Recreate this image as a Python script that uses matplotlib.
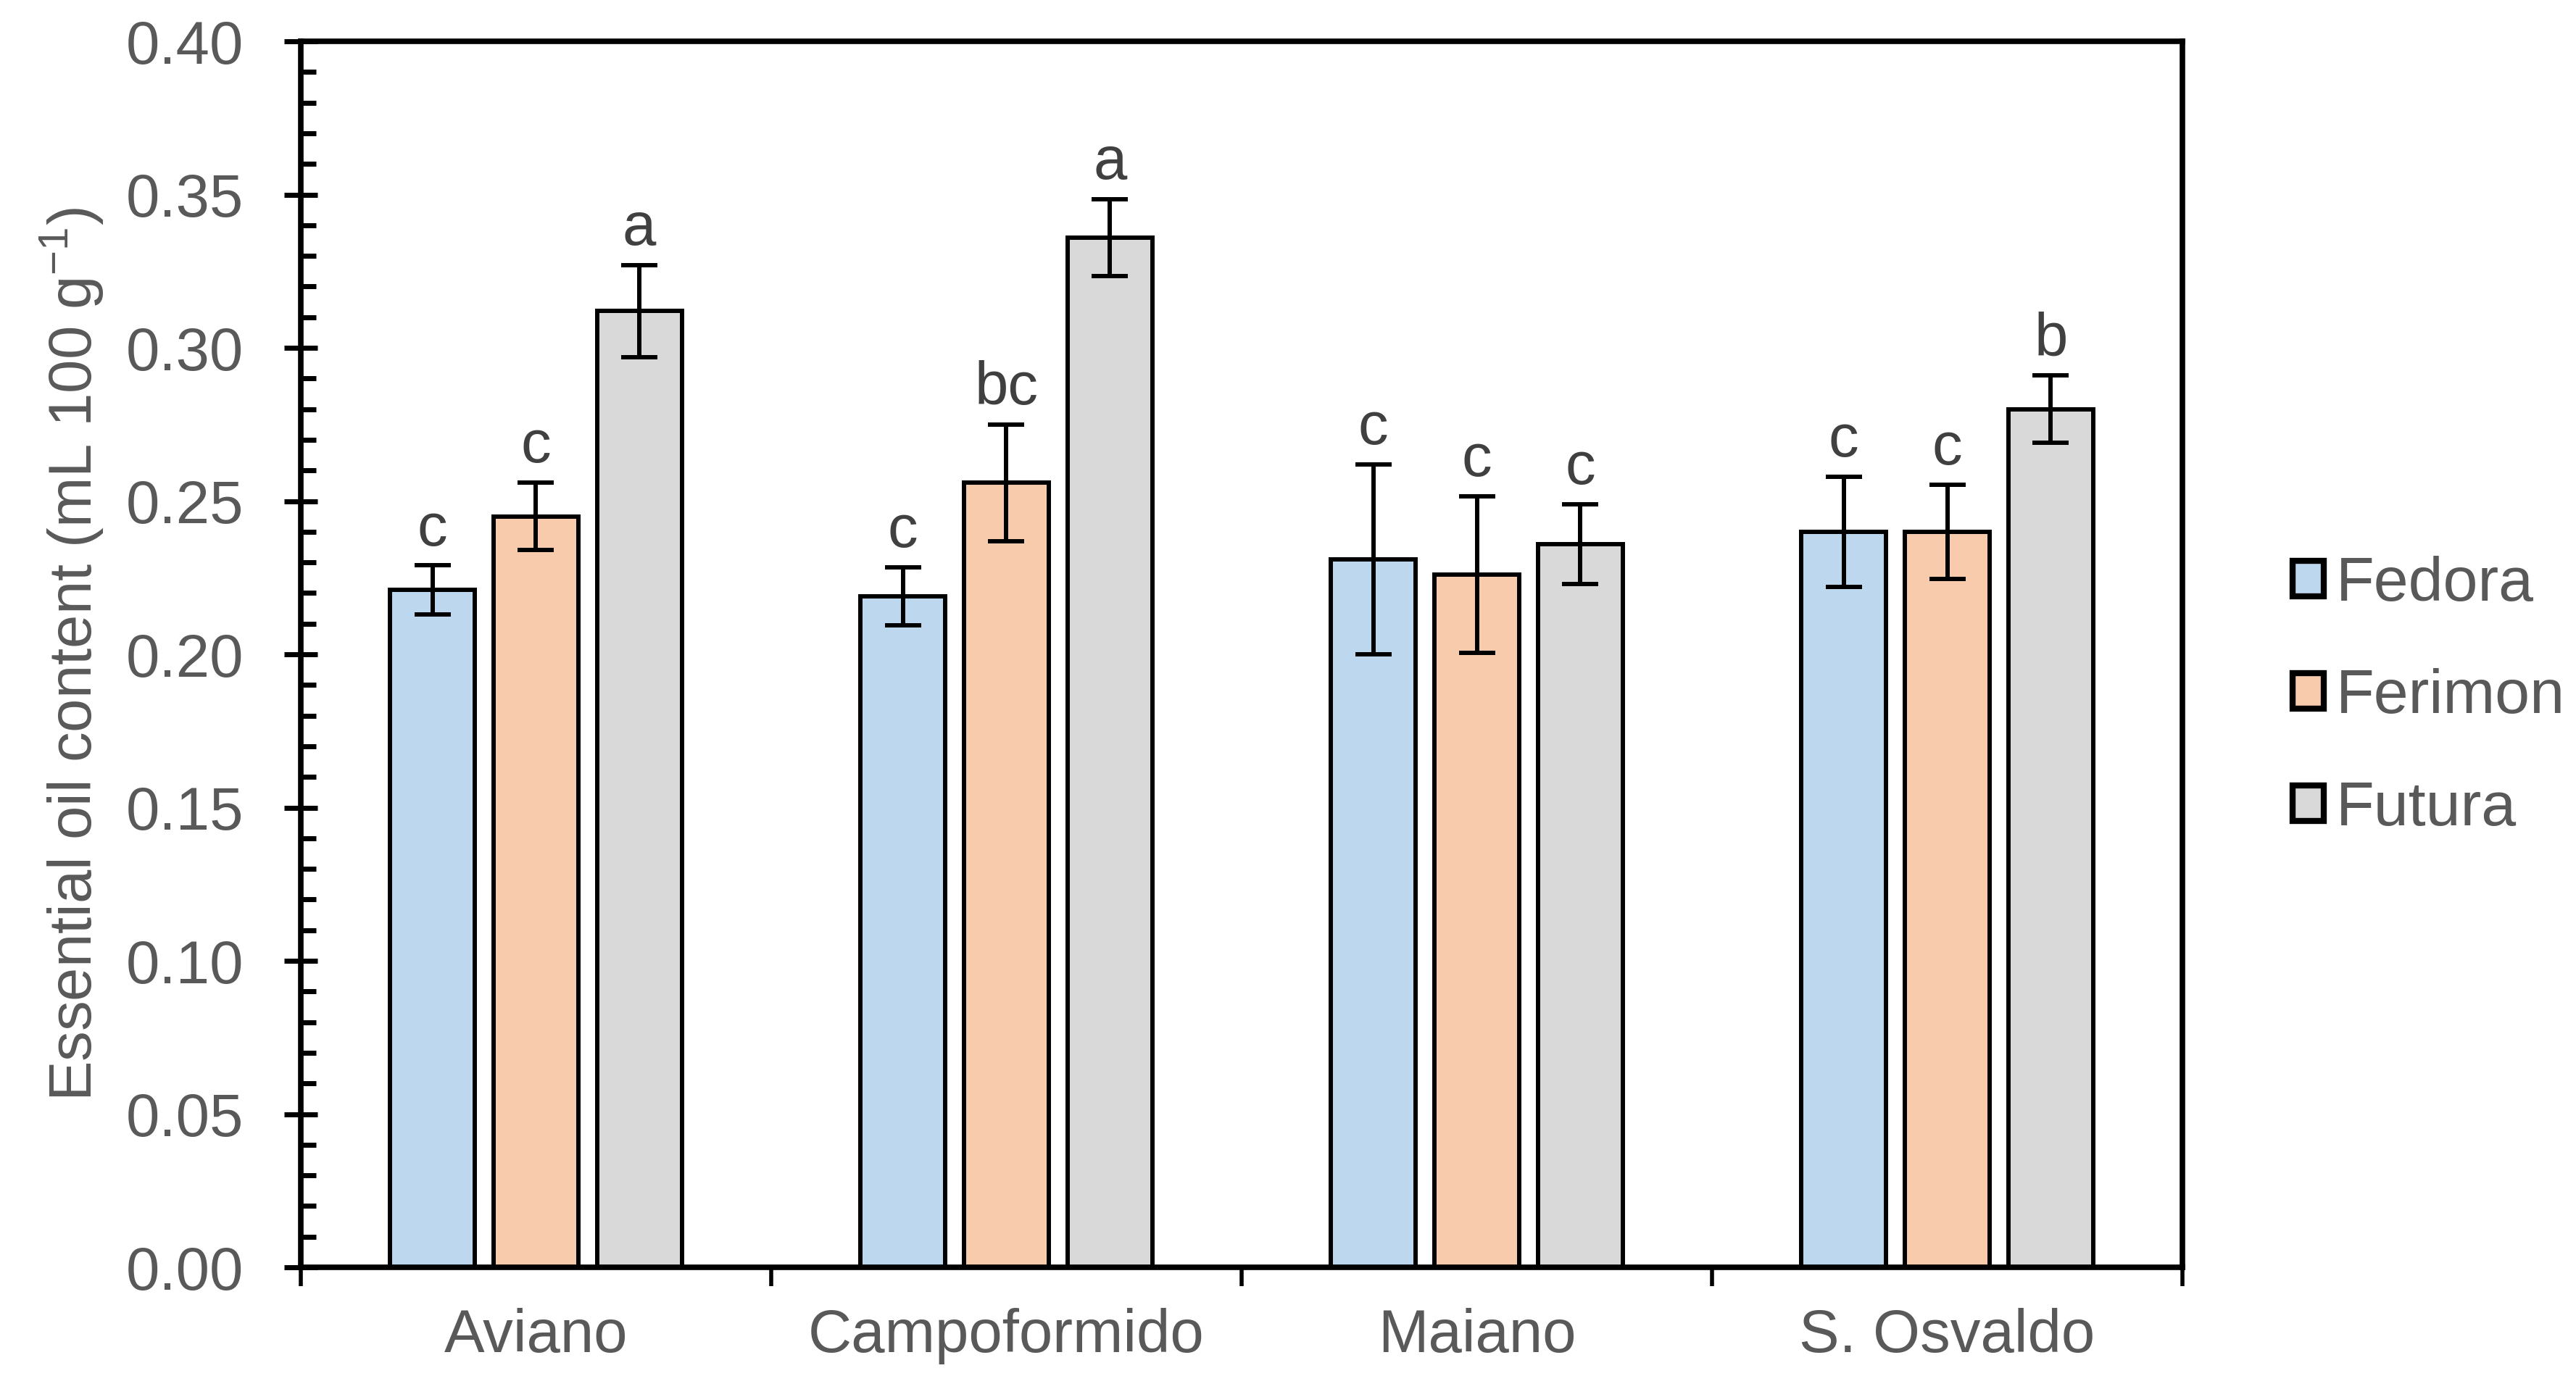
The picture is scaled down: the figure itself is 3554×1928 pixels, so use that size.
import numpy as np
import matplotlib
matplotlib.use('Agg')
import matplotlib.pyplot as plt
from matplotlib.ticker import MultipleLocator, FixedLocator, NullFormatter

plt.rcParams['font.family'] = ['Liberation Sans', 'DejaVu Sans']
plt.rcParams['mathtext.fontset'] = 'custom'
plt.rcParams['mathtext.rm'] = 'Liberation Sans'

# Data
sites = ['Aviano', 'Campoformido', 'Maiano', 'S. Osvaldo']
cultivars = ['Fedora', 'Ferimon', 'Futura']
fedora = [0.221, 0.219, 0.231, 0.240]
ferimon = [0.245, 0.256, 0.226, 0.240]
futura = [0.312, 0.336, 0.236, 0.280]
fedora_err = [0.008, 0.0095, 0.031, 0.018]
ferimon_err = [0.011, 0.019, 0.0255, 0.0153]
futura_err = [0.015, 0.0125, 0.013, 0.011]
fedora_let = ['c', 'c', 'c', 'c']
ferimon_let = ['c', 'bc', 'c', 'c']
futura_let = ['a', 'a', 'c', 'b']

colors = ['#BDD7EE', '#F8CBAD', '#D9D9D9']
text_gray = '#595959'

fig = plt.figure(figsize=(35.55, 19.28), dpi=100)
ax = fig.add_axes([0.1167, 0.0928, 0.7303, 0.8776])

x = np.arange(len(sites))
offsets = [-0.22, 0.0, 0.22]
width = 0.18
series = [(fedora, fedora_err, fedora_let), (ferimon, ferimon_err, ferimon_let),
          (futura, futura_err, futura_let)]

for i, (vals, errs, lets) in enumerate(series):
    xi = x + offsets[i]
    ax.bar(xi, vals, width, color=colors[i], edgecolor='black', linewidth=4.3,
           label=cultivars[i], zorder=2)
    ax.errorbar(xi, vals, yerr=errs, fmt='none', ecolor='black', elinewidth=4.3,
                capsize=18, capthick=4.3, zorder=3)
    for xx, v, e, l in zip(xi, vals, errs, lets):
        ax.annotate(l, (xx, v + e), xytext=(0, 20), textcoords='offset points',
                    ha='center', va='baseline', fontsize=60, color='#404040')

ax.set_xlim(-0.5, 3.5)
ax.set_ylim(0, 0.40)

# y axis
ax.yaxis.set_major_locator(MultipleLocator(0.05))
ax.yaxis.set_minor_locator(MultipleLocator(0.01))
ax.yaxis.set_major_formatter(matplotlib.ticker.FormatStrFormatter('%.2f'))
ax.tick_params(axis='y', which='major', direction='inout', length=33, width=5,
               pad=40, labelsize=60, labelcolor=text_gray)
ax.tick_params(axis='y', which='minor', direction='in', length=15, width=5)

# x axis: ticks at group boundaries, labels at centers
ax.xaxis.set_major_locator(FixedLocator(np.arange(-0.5, 3.6, 1.0)))
ax.xaxis.set_major_formatter(NullFormatter())
ax.xaxis.set_minor_locator(FixedLocator(x))
ax.xaxis.set_minor_formatter(matplotlib.ticker.FixedFormatter(sites))
ax.tick_params(axis='x', which='major', direction='out', length=19, width=4)
ax.tick_params(axis='x', which='minor', length=0, pad=40, labelsize=60,
               labelcolor=text_gray)

for s in ax.spines.values():
    s.set_linewidth(5.5)
    s.set_color('black')

ax.set_ylabel('Essential oil content (mL 100 g$^{\\mathregular{-1}}$)',
              fontsize=60, color=text_gray, labelpad=20)

leg = fig.legend(loc='center left', bbox_to_anchor=(0.8897, 0.501), frameon=False,
                 fontsize=62, handlelength=0.5, handleheight=0.5, handletextpad=0.2,
                 labelspacing=0.87, borderpad=0, borderaxespad=0,
                 labelcolor=text_gray)
for h in leg.legend_handles:
    h.set_linewidth(6)

fig.savefig('out.png', dpi=100)
